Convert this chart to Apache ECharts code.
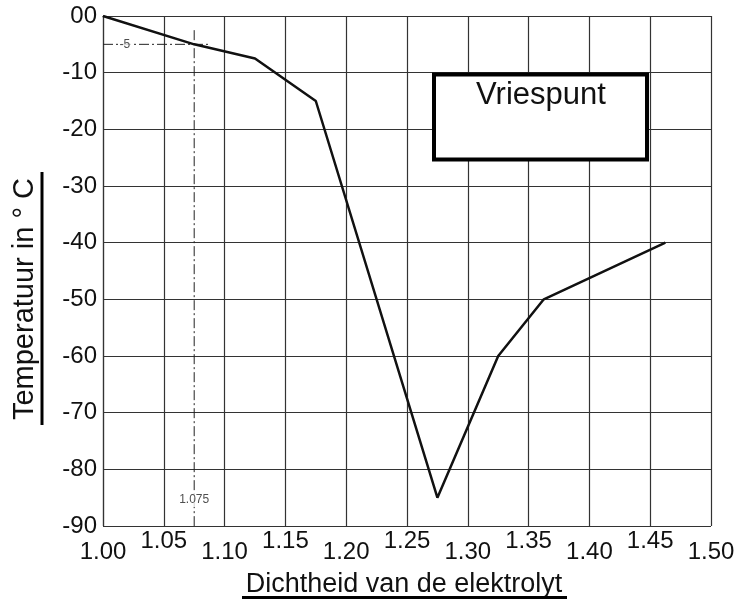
<!DOCTYPE html>
<html>
<head>
<meta charset="utf-8">
<script src="https://cdn.jsdelivr.net/npm/echarts@6/dist/echarts.min.js"></script>
<style>
  html, body { margin: 0; padding: 0; background: #fff; }
  #chart { width: 750px; height: 609px; }
</style>
</head>
<body>
<div id="chart"></div>
<script>
// dichtheid (x) en vriespunt (y)
const densities = [1.0, 1.075, 1.125, 1.175, 1.275, 1.325, 1.3625, 1.4625];
const freezePoints = [0, -5, -7.5, -15, -85, -60, -50, -40];

// hulplijnen (streep-punt)
const helpVertical = [[1.075, -2.5], [1.075, -90]];
const helpHorizontal = [[1.0, -5], [1.0875, -5]];
const helpLabels = [
  { name: "-5", value: [1.018, -5] },
  { name: "1.075", value: [1.075, -85.4] },
];

const FONT = "'Liberation Sans', Arial, sans-serif";
const myChart = echarts.init(document.getElementById("chart"));

const isOdd = (v) => Math.round(v * 20) % 2 === 1;

const baseX = {
  type: "value",
  min: 1.0,
  max: 1.5,
  interval: 0.05,
  position: "bottom",
};

myChart.setOption({
  animation: false,
  grid: { left: 103, top: 16, right: 39, bottom: 83 },
  xAxis: [
    {
      ...baseX,
      axisLine: { show: true, lineStyle: { color: "#333", width: 1.2 } },
      axisTick: { show: false },
      splitLine: { show: true, lineStyle: { color: "#333", width: 1.2 } },
      axisLabel: {
        interval: 0,
        margin: 14,
        color: "#111",
        fontSize: 24,
        fontFamily: FONT,
        formatter: (v) => (isOdd(v) ? "" : v.toFixed(2)),
      },
    },
    {
      ...baseX,
      axisLine: { show: false },
      axisTick: { show: false },
      splitLine: { show: false },
      axisLabel: {
        interval: 0,
        margin: 3,
        color: "#111",
        fontSize: 24,
        fontFamily: FONT,
        formatter: (v) => (isOdd(v) ? v.toFixed(2) : ""),
      },
    },
  ],
  yAxis: {
    type: "value",
    min: -90,
    max: 0,
    interval: 10,
    axisLine: { show: true, lineStyle: { color: "#333", width: 1.2 } },
    axisTick: { show: false },
    splitLine: { show: true, lineStyle: { color: "#333", width: 1.2 } },
    axisLabel: {
      margin: 6,
      color: "#111",
      fontSize: 24,
      fontFamily: FONT,
      formatter: (v) => (v === 0 ? "00" : String(v)),
    },
  },
  series: [
    {
      type: "line",
      data: densities.map((d, i) => [d, freezePoints[i]]),
      symbol: "none",
      lineStyle: { color: "#111", width: 2.5 },
      z: 5,
    },
    {
      type: "line",
      data: helpVertical,
      symbol: "none",
      lineStyle: { color: "#222", width: 1, type: [10, 3, 2, 3] },
    },
    {
      type: "line",
      data: helpHorizontal,
      symbol: "none",
      lineStyle: { color: "#222", width: 1, type: [10, 3, 2, 3] },
    },
    {
      type: "scatter",
      data: helpLabels,
      symbolSize: 0,
      z: 6,
      label: {
        show: true,
        position: "inside",
        formatter: (p) => p.name,
        color: "#222",
        fontSize: 12,
        fontFamily: FONT,
        backgroundColor: "#fff",
        padding: [1, 1],
      },
    },
  ],
  graphic: [
    {
      type: "rect",
      shape: { x: 434, y: 74.5, width: 213, height: 85 },
      style: { fill: "#fff", stroke: "#000", lineWidth: 4 },
      z: 10,
    },
    {
      type: "text",
      x: 541,
      y: 95,
      style: {
        text: "Vriespunt",
        font: "31px " + FONT,
        fill: "#111",
        align: "center",
        verticalAlign: "middle",
      },
      z: 11,
    },
    {
      type: "text",
      x: 404,
      y: 585,
      style: {
        text: "Dichtheid van de elektrolyt",
        font: "27px " + FONT,
        fill: "#111",
        align: "center",
        verticalAlign: "middle",
      },
    },
    {
      type: "line",
      shape: { x1: 242, y1: 597.5, x2: 567, y2: 597.5 },
      style: { stroke: "#000", lineWidth: 3 },
    },
    {
      type: "text",
      x: 25,
      y: 299,
      rotation: Math.PI / 2,
      style: {
        text: "Temperatuur in ° C",
        font: "29px " + FONT,
        fill: "#111",
        align: "center",
        verticalAlign: "middle",
      },
    },
    {
      type: "line",
      shape: { x1: 42, y1: 172, x2: 42, y2: 425 },
      style: { stroke: "#000", lineWidth: 3 },
    },
  ],
});
</script>
</body>
</html>
